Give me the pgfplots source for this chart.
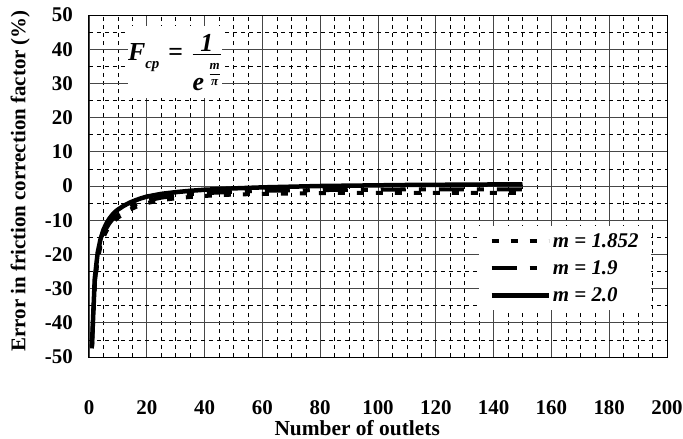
\documentclass[border=0pt]{standalone}
\usepackage{fontspec}
\setmainfont{Liberation Serif}
\usepackage{pgfplots}
\usepackage{pgfplotstable}
\pgfplotsset{compat=1.18}

\pgfplotstableread{
N   a      b      c
1   -47.5  -47.3  -47.0
2   -29.0  -28.3  -27.0
3   -21.5  -20.8  -19.5
4   -17.5  -16.8  -15.5
5   -15.0  -14.2  -12.8
6   -13.2  -12.4  -11.0
7   -11.8  -11.0  -9.6
8   -10.8  -9.9   -8.5
9   -10.0  -9.1   -7.6
10  -9.3   -8.4   -6.9
12  -8.0   -7.2   -5.8
14  -7.0   -6.2   -4.9
16  -6.2   -5.4   -4.2
18  -5.5   -4.8   -3.6
20  -5.0   -4.3   -3.1
25  -4.1   -3.4   -2.3
30  -3.6   -2.8   -1.8
35  -3.2   -2.4   -1.4
40  -2.9   -2.1   -1.1
50  -2.5   -1.7   -0.7
60  -2.3   -1.4   -0.4
70  -2.2   -1.3   -0.2
80  -2.1   -1.2   0.0
90  -2.0   -1.1   0.1
100 -2.0   -1.1   0.2
110 -2.0   -1.0   0.3
120 -2.0   -1.0   0.35
130 -2.0   -1.0   0.4
140 -2.0   -1.0   0.45
150 -2.0   -1.0   0.5
}\datatable

\begin{document}
\begin{tikzpicture}
\begin{axis}[
  name=ax, at={(0,0)}, anchor=south west,
  scale only axis, width=578bp, height=342bp,
  xmin=0, xmax=200, ymin=-50, ymax=50,
  xtick={0,20,...,200}, ytick={-50,-40,...,50},
  minor xtick={5,10,15,25,30,35,45,50,55,65,70,75,85,90,95,105,110,115,125,130,135,145,150,155,165,170,175,185,190,195},
  minor ytick={-45,-35,...,45},
  grid=both,
  major grid style={draw=gray!55!black, line width=0.9bp},
  minor grid style={draw=black, line width=0.5bp, dash pattern=on 4bp off 4bp},
  tick style={draw=none},
  axis line style={line width=1bp},
  /pgf/number format/assume math mode=true,
  ticklabel style={font=\bfseries\fontsize{21}{21}\selectfont, inner sep=0pt},
  xticklabel style={anchor=center, yshift=-51bp},
  yticklabel style={anchor=east, xshift=-16bp},
  xlabel={Number of outlets},
  ylabel={Error in friction correction factor (\%)},
  xlabel style={font=\bfseries\fontsize{21.5}{21.5}\selectfont, inner sep=0pt, at={(axis description cs:0.464,-0.208)}, anchor=center},
  ylabel style={font=\bfseries\fontsize{21}{21}\selectfont, at={(axis description cs:-0.119,0.515)}, anchor=center},
  legend style={at={(axis cs:135,-11.7)}, anchor=north west, draw=none, fill=white,
    font=\bfseries\itshape\fontsize{21}{21}\selectfont, row sep=8bp,
    inner xsep=10bp, inner ysep=5bp},
  legend cell align=left,
  legend image code/.code={\draw[#1] (0bp,0bp) -- (57bp,0bp);},
]
\addplot[black, line width=4bp, dash pattern=on 7bp off 12bp] table[x=N, y=a] {\datatable};
\addlegendentry{m = 1.852}
\addplot[black, line width=4bp, dash pattern=on 25bp off 13bp on 7bp off 13bp] table[x=N, y=b] {\datatable};
\addlegendentry{m = 1.9}
\addplot[black, line width=4.5bp] table[x=N, y=c] {\datatable};
\addlegendentry{m = 2.0}
\node[fill=white, minimum width=86bp, minimum height=72bp, inner sep=0pt] at (axis cs:29.8,36.2)
 {\fontsize{26}{26}\selectfont\bfseries\itshape F\raisebox{-0.3em}{\fontsize{15}{15}\selectfont cp}\,\,=\,\,$\frac{\mbox{\fontsize{26}{26}\selectfont\bfseries\itshape 1}}{\mbox{\rule{0pt}{35bp}\fontsize{26}{26}\selectfont\bfseries\itshape e\,\raisebox{13bp}{\fontsize{13}{13}\selectfont$\displaystyle\frac{\mbox{\fontsize{13}{13}\selectfont\bfseries\itshape m}}{\mbox{\fontsize{13}{13}\selectfont\bfseries\itshape π}}$}}}$};
\end{axis}
\pgfresetboundingbox
\path[use as bounding box] (-89bp,-82bp) rectangle (594bp,357bp);
\end{tikzpicture}
\end{document}
